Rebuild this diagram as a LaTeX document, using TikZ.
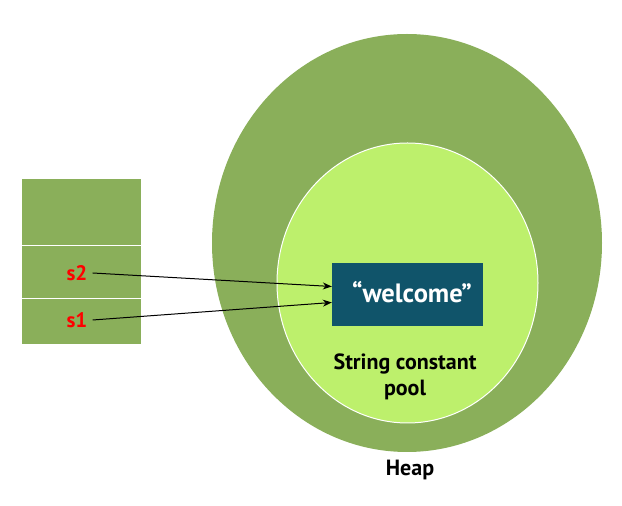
\documentclass[tikz,border=0pt]{standalone}
\usepackage{fontspec}
\setmainfont{PT Sans}
\usetikzlibrary{shapes.geometric,arrows.meta}
\definecolor{heapgreen}{HTML}{8AAF5A}
\definecolor{poolgreen}{HTML}{BDF06C}
\definecolor{boxteal}{HTML}{10546A}
\tikzset{
  cell/.style={draw=white, line width=1pt, fill=heapgreen, minimum width=120pt, inner sep=0pt},
  lbl/.style={font=\bfseries\fontsize{22}{26}\selectfont, inner sep=0pt},
  ref/.style={lbl, text=red, font=\bfseries\fontsize{21}{25}\selectfont},
  pointer/.style={line width=1pt, -{Stealth[length=9pt,width=7pt]}}
}
\begin{document}
\begin{tikzpicture}[x=1pt,y=1pt]
\useasboundingbox (0,0) rectangle (622,506);
\node[ellipse, fill=heapgreen, minimum width=390pt, minimum height=418pt, inner sep=0pt] (heap) at (407,263) {};
\node[ellipse, fill=poolgreen, draw=white, line width=1pt, minimum width=261pt, minimum height=280pt, inner sep=0pt] (pool) at (407.5,223) {};
\node[fill=boxteal, minimum width=151pt, minimum height=63pt, inner sep=0pt] (box) at (407.5,211.5) {};
\node[lbl, text=white, font=\bfseries\fontsize{26.5}{30}\selectfont] (welcome) at (412,214) {“welcome”};
\node[lbl, align=center, font=\bfseries\fontsize{22}{26}\selectfont] (pooltext) at (405,129) {String constant\\pool};
\node[lbl] (heaptext) at (410,36) {Heap};
\node[cell, minimum height=67pt] (c0) at (81,293.5) {};
\node[cell, minimum height=53pt] (c1) at (81,233.5) {};
\node[cell, minimum height=46pt] (c2) at (81,184) {};
\node[ref] (s2) at (77,233) {s2};
\node[ref] (s1) at (77,186) {s1};
\draw[pointer] ([xshift=5pt]s2.east) -- ([yshift=8pt]box.west);
\draw[pointer] ([xshift=5pt]s1.east) -- ([yshift=-8pt]box.west);
\end{tikzpicture}
\end{document}
